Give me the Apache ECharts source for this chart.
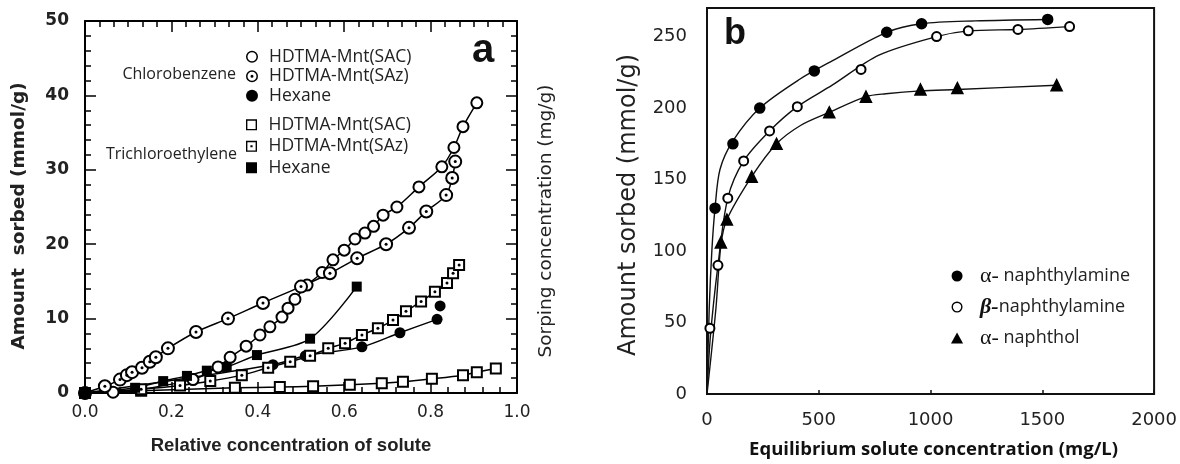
<!DOCTYPE html>
<html>
<head>
<meta charset="utf-8">
<script src="https://cdn.jsdelivr.net/npm/echarts@6/dist/echarts.min.js"></script>
<style>
  html, body { margin: 0; padding: 0; background: #fff; }
  #chart { width: 1180px; height: 464px; }
</style>
</head>
<body>
<div id="chart"></div>
<script>
// panel a: chlorobenzene / trichloroethylene sorption, [relative concentration, amount]
const cbSac = [[0,0],[0.065,0.1],[0.25,1.8],[0.308,3.5],[0.336,4.8],[0.373,6.3],[0.405,7.8],[0.428,8.9],[0.456,10.2],[0.47,11.4],[0.486,12.6],[0.514,14.5],[0.549,16.2],[0.574,17.9],[0.6,19.2],[0.625,20.7],[0.648,21.5],[0.668,22.4],[0.69,23.9],[0.722,25.0],[0.773,27.7],[0.826,30.4],[0.854,33.0],[0.875,35.8],[0.907,39.0]]
const cbSaz = [[0,0],[0.046,0.9],[0.081,1.8],[0.097,2.4],[0.109,2.8],[0.132,3.4],[0.15,4.2],[0.164,4.8],[0.192,6.0],[0.257,8.2],[0.331,10.0],[0.412,12.1],[0.5,14.3],[0.567,16.1],[0.63,18.1],[0.697,20.0],[0.75,22.2],[0.79,24.4],[0.836,26.6],[0.85,28.9],[0.857,31.1]]
const cbHex = [[0,0],[0.435,3.8],[0.51,5.0],[0.641,6.2],[0.729,8.1],[0.815,9.9]]
const cbHexExtra = [[0.822,11.7]]
const tceSac = [[0,0],[0.13,0.3],[0.347,0.7],[0.451,0.8],[0.528,0.9],[0.613,1.1],[0.687,1.3],[0.736,1.5],[0.803,1.9],[0.875,2.4],[0.907,2.8],[0.951,3.3]]
const tceSaz = [[0,0],[0.13,0.5],[0.22,1.0],[0.29,1.6],[0.363,2.4],[0.424,3.4],[0.475,4.2],[0.521,5.0],[0.563,6.0],[0.602,6.7],[0.641,7.8],[0.678,8.7],[0.713,9.8],[0.743,11.0],[0.778,12.3],[0.81,13.6],[0.838,14.8],[0.852,16.1],[0.866,17.2]]
const tceHex = [[0,0],[0.116,0.7],[0.181,1.6],[0.236,2.3],[0.282,3.0],[0.328,3.5],[0.398,5.1],[0.521,7.3],[0.629,14.3]]

// panel b: naphthalene derivatives, [equilibrium concentration, amount]
const aAmine = [[36,130],[116,175],[236,200],[480,226],[804,253],[960,259],[1524,262]]
const bAmine = [[13,46],[49,90],[93,137],[164,163],[280,184],[404,201],[689,227],[1027,250],[1169,254],[1391,255],[1622,257]]
const aNaphthol = [[62,106],[89,122],[200,152],[311,175],[547,197],[711,208],[955,213],[1120,214],[1564,216]]
// fitted curves
const aAmineFit = [[0,0],[10,60],[22,101],[36,130],[58,157],[116,177],[236,200],[413,220],[560,233],[804,253],[960,259],[1200,261],[1524,262]]
const bAmineFit = [[0,0],[15,40],[49,90],[93,137],[164,163],[280,184],[404,201],[560,216],[769,237],[1027,250],[1169,254],[1391,255],[1622,257]]
const aNaphtholFit = [[0,0],[40,60],[62,104],[89,122],[200,152],[311,175],[420,188],[547,197],[711,208],[800,210],[955,212],[1120,213],[1564,216]]

const ring = 'path://M2,12A10,10,0,1,1,22,12A10,10,0,1,1,2,12ZM4.5,12A7.5,7.5,0,1,0,19.5,12A7.5,7.5,0,1,0,4.5,12Z'
const ringDot = ring + 'M9.5,12A2.5,2.5,0,1,1,14.5,12A2.5,2.5,0,1,1,9.5,12Z'
const box = 'path://M2,2H22V22H2ZM4.5,4.5V19.5H19.5V4.5Z'
const boxDot = box + 'M10,10H14V14H10Z'
const solidBox = 'path://M2,2H22V22H2Z'
const solidTri = 'path://M12,2L23,22H1Z'

const sans = 'Liberation Sans'
const dv = 'DejaVu Sans'
const open = 'Open Sans'

const chart = echarts.init(document.getElementById('chart'))

function aLine (name, data, symbol, size) {
  return {
    name: name,
    type: 'line',
    xAxisIndex: 0,
    yAxisIndex: 0,
    data: data,
    smooth: 0.3,
    symbol: symbol,
    symbolSize: size,
    showAllSymbol: true,
    lineStyle: { color: '#000', width: 1.5 },
    itemStyle: { color: '#000', borderWidth: 1.5 }
  }
}
function dots (data) {
  return {
    type: 'scatter',
    xAxisIndex: 0,
    yAxisIndex: 0,
    data: data.slice(1),
    symbol: 'circle',
    symbolSize: 3,
    itemStyle: { color: '#000', opacity: 1 },
    z: 5
  }
}
function bFit (name, data) {
  return {
    name: name,
    type: 'line',
    xAxisIndex: 1,
    yAxisIndex: 2,
    data: data,
    smooth: 0.3,
    symbol: 'none',
    lineStyle: { color: '#111', width: 1.4 }
  }
}
function bPts (name, data, symbol, size) {
  return {
    name: name,
    type: 'scatter',
    xAxisIndex: 1,
    yAxisIndex: 2,
    data: data,
    symbol: symbol,
    symbolSize: size,
    itemStyle: { color: '#000', borderColor: '#000', borderWidth: 1.5, opacity: 1 },
    z: 4
  }
}

const axisLineA = { show: true, onZero: false, lineStyle: { color: '#000', width: 2 } }
const tickA = { inside: true, length: 11, lineStyle: { color: '#000', width: 1.5 } }
const minorA = { show: true, length: 6, lineStyle: { color: '#000', width: 1.5 } }

const legendText = { fontFamily: open, fontSize: 17.5, color: '#222', lineHeight: 19.5 }
const stripGroup = name => name.replace(/^(Chlorobenzene|Trichloroethylene) /, '')

chart.setOption({
  animation: false,
  grid: [
    { left: 85, top: 21, width: 432, height: 372 },
    { left: 707, top: 8, width: 449, height: 391, show: true, borderColor: '#111', borderWidth: 2 }
  ],
  xAxis: [
    {
      gridIndex: 0, type: 'value', min: 0, max: 1, interval: 0.2, position: 'bottom',
      axisLine: axisLineA, axisTick: tickA, minorTick: Object.assign({ splitNumber: 5 }, minorA),
      splitLine: { show: false }, minorSplitLine: { show: false },
      axisLabel: { formatter: v => v.toFixed(1), fontFamily: dv, fontSize: 17, color: '#222', margin: 11 },
      name: 'Relative concentration of solute', nameLocation: 'middle', nameGap: 43,
      nameTextStyle: { fontFamily: sans, fontSize: 18.5, fontWeight: 'bold', color: '#222', padding: [0, 20, 0, 0] }
    },
    {
      gridIndex: 1, type: 'value', min: 0, max: 2000, interval: 500,
      axisLine: { onZero: false, lineStyle: { color: '#111', width: 2 } },
      axisTick: { inside: true, length: 4, lineStyle: { color: '#111', width: 1.5 } },
      splitLine: { show: false },
      axisLabel: { formatter: v => String(v), fontFamily: dv, fontSize: 18, color: '#222', margin: 17 },
      name: 'Equilibrium solute concentration (mg/L)', nameLocation: 'middle', nameGap: 46,
      nameTextStyle: { fontFamily: open, fontSize: 18.5, fontWeight: 'bold', color: '#111', padding: [0, 0, 0, 6] }
    },
    {
      gridIndex: 0, type: 'value', min: 0, max: 1, interval: 0.2, position: 'top',
      axisLine: axisLineA, axisTick: tickA, minorTick: Object.assign({ splitNumber: 6 }, minorA),
      splitLine: { show: false }, axisLabel: { show: false }
    }
  ],
  yAxis: [
    {
      gridIndex: 0, type: 'value', min: 0, max: 50, interval: 10,
      axisLine: axisLineA, axisTick: tickA,
      minorTick: Object.assign({ splitNumber: 5 }, minorA),
      splitLine: { show: false },
      axisLabel: { fontFamily: dv, fontSize: 17, fontWeight: 'bold', color: '#222', margin: 16 },
      name: 'Amount  sorbed (mmol/g)', nameLocation: 'middle', nameGap: 56,
      nameTextStyle: { fontFamily: dv, fontSize: 18.5, fontWeight: 'bold', color: '#222', padding: [0, 18, 0, 0] }
    },
    {
      gridIndex: 0, type: 'value', min: 0, max: 50, interval: 10, position: 'right',
      axisLine: axisLineA, axisTick: tickA,
      minorTick: Object.assign({ splitNumber: 5 }, minorA),
      splitLine: { show: false }, axisLabel: { show: false },
      name: 'Sorping concentration (mg/g)', nameLocation: 'middle', nameGap: 20, nameRotate: 90,
      nameTextStyle: { fontFamily: dv, fontSize: 18.5, color: '#222', verticalAlign: 'top', padding: [0, 28, 0, 0] }
    },
    {
      gridIndex: 1, type: 'value', min: 0, max: 270, interval: 50,
      axisLine: { show: true, onZero: false, lineStyle: { color: '#111', width: 2 } },
      axisTick: { show: false },
      splitLine: { show: false },
      axisLabel: { fontFamily: dv, fontSize: 18, color: '#222', margin: 20, showMaxLabel: false },
      name: 'Amount sorbed (mmol/g)', nameLocation: 'middle', nameGap: 66,
      nameTextStyle: { fontFamily: dv, fontSize: 24, color: '#222', padding: [0, 8, 0, 0] }
    }
  ],
  legend: [
    {
      orient: 'vertical', left: 246, top: 47, padding: 0, itemWidth: 24, itemHeight: 12, itemGap: 0,
      selectedMode: false, textStyle: legendText, itemStyle: { borderWidth: 0 },
      formatter: stripGroup,
      data: [
        { name: 'Chlorobenzene HDTMA-Mnt(SAC)', icon: ring },
        { name: 'Chlorobenzene HDTMA-Mnt(SAz)', icon: ringDot },
        { name: 'Chlorobenzene Hexane', icon: 'circle' }
      ]
    },
    {
      orient: 'vertical', left: 246, top: 115, padding: 0, itemWidth: 24, itemHeight: 11, itemGap: 2,
      selectedMode: false, textStyle: legendText, itemStyle: { borderWidth: 0 },
      formatter: stripGroup,
      data: [
        { name: 'Trichloroethylene HDTMA-Mnt(SAC)', icon: box },
        { name: 'Trichloroethylene HDTMA-Mnt(SAz)', icon: boxDot },
        { name: 'Trichloroethylene Hexane', icon: solidBox }
      ]
    },
    {
      orient: 'vertical', left: 951, top: 265, padding: 0, itemWidth: 36, itemHeight: 11, itemGap: 9,
      selectedMode: false, itemStyle: { borderWidth: 0 },
      textStyle: {
        fontFamily: open, fontSize: 18, color: '#222', lineHeight: 20,
        rich: {
          a: { fontFamily: 'Liberation Serif', fontSize: 22, color: '#111', lineHeight: 20 },
          b: { fontFamily: 'Liberation Serif', fontSize: 22, fontStyle: 'italic', fontWeight: 'bold', color: '#111', lineHeight: 20 },
          t: { fontFamily: open, fontSize: 18, color: '#222', lineHeight: 20 }
        }
      },
      formatter: name => {
        if (name === 'β-naphthylamine') return '{b|β-}{t|naphthylamine}'
        const parts = name.split('-')
        return '{a|α-} {t|' + parts[1] + '}'
      },
      data: [
        { name: 'α-naphthylamine', icon: 'circle' },
        { name: 'β-naphthylamine', icon: ring },
        { name: 'α-naphthol', icon: solidTri }
      ]
    }
  ],
  graphic: [
    { type: 'text', left: 472, top: 31, style: { text: 'a', font: 'bold 40px "Liberation Sans"', fill: '#111' } },
    { type: 'text', left: 724, top: 16, style: { text: 'b', font: 'bold 36px "Liberation Sans"', fill: '#111' } },
    { type: 'text', right: 1180 - 236, top: 66, style: { text: 'Chlorobenzene', font: '16px "Open Sans"', fill: '#222' } },
    { type: 'text', right: 1180 - 237, top: 146, style: { text: 'Trichloroethylene', font: '16px "Open Sans"', fill: '#222' } }
  ],
  series: [
    aLine('Chlorobenzene HDTMA-Mnt(SAC)', cbSac, 'emptyCircle', 11),
    aLine('Chlorobenzene HDTMA-Mnt(SAz)', cbSaz, 'emptyCircle', 12),
    dots(cbSaz),
    aLine('Chlorobenzene Hexane', cbHex, 'circle', 11),
    {
      type: 'scatter', xAxisIndex: 0, yAxisIndex: 0, data: cbHexExtra,
      symbol: 'circle', symbolSize: 11, itemStyle: { color: '#000', opacity: 1 }
    },
    aLine('Trichloroethylene HDTMA-Mnt(SAC)', tceSac, 'emptyRect', 10),
    aLine('Trichloroethylene HDTMA-Mnt(SAz)', tceSaz, 'emptyRect', 10),
    dots(tceSaz),
    aLine('Trichloroethylene Hexane', tceHex, 'rect', 10),
    bFit('fit α-naphthylamine', aAmineFit),
    bFit('fit β-naphthylamine', bAmineFit),
    bFit('fit α-naphthol', aNaphtholFit),
    bPts('α-naphthylamine', aAmine, 'circle', 10),
    bPts('β-naphthylamine', bAmine, 'emptyCircle', 9),
    bPts('α-naphthol', aNaphthol, 'triangle', 11)
  ]
})
</script>
</body>
</html>
